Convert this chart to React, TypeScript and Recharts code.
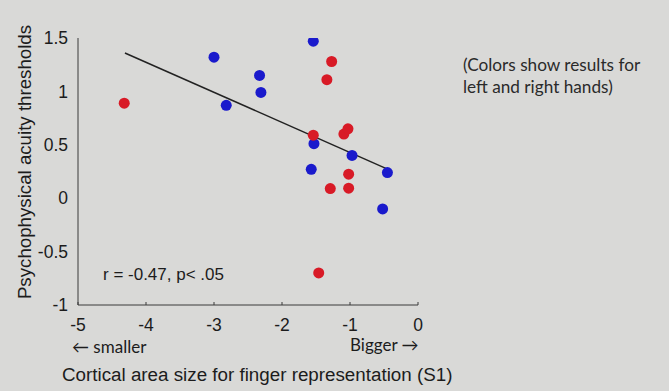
import { ScatterChart, Scatter, XAxis, YAxis } from 'recharts'

const redX = [-4.32, -1.27, -1.34, -1.54, -1.09, -1.03, -1.02, -1.29, -1.02, -1.46]
const redY = [0.89, 1.28, 1.11, 0.59, 0.6, 0.65, 0.225, 0.09, 0.094, -0.7]
const blueX = [-1.54, -3.0, -2.33, -2.31, -2.82, -1.53, -1.57, -0.97, -0.45, -0.52]
const blueY = [1.47, 1.32, 1.15, 0.99, 0.87, 0.51, 0.27, 0.4, 0.24, -0.1]
const fitX = [-4.31, -0.44]
const fitY = [1.36, 0.27]
const xTicks = [-5, -4, -3, -2, -1, 0]
const yTicks = [-1, -0.5, 0, 0.5, 1, 1.5]

const BG = '#d9d9d7'
const RED = '#d81a26'
const BLUE = '#1a1acc'
const AXIS = '#3a3a3a'
const TEXT = '#1c1c1c'
const SANS = '"Liberation Sans", Arial, sans-serif'
const CAL = 'Lato, "Open Sans", sans-serif'

const red = redX.map((x, i) => ({ x, y: redY[i] }))
const blue = blueX.map((x, i) => ({ x, y: blueY[i] }))
const fit = fitX.map((x, i) => ({ x, y: fitY[i] }))

const dot = (color: string) => (props: any) => (
  <circle cx={props.cx} cy={props.cy} r={5.5} fill={color} />
)

function XTick(props: any) {
  const { x, y, payload } = props
  return (
    <g>
      <line x1={x} x2={x} y1={y - 4} y2={y - 7} stroke={AXIS} />
      <text x={x} y={y + 22} textAnchor="middle" fill={TEXT} fontSize={17.5} fontFamily={SANS}>
        {payload.value}
      </text>
    </g>
  )
}

export default function App() {
  return (
    <div
      style={{
        position: 'fixed',
        left: 0,
        top: 0,
        width: 669,
        height: 391,
        background: BG,
        overflow: 'hidden',
      }}
    >
      <ScatterChart width={669} height={391} margin={{ top: 38, right: 251, bottom: 56, left: 0 }}>
        <XAxis
          type="number"
          dataKey="x"
          domain={[-5, 0]}
          ticks={xTicks}
          height={30}
          stroke={AXIS}
          tickLine={false}
          tickSize={0}
          tickMargin={4}
          tick={<XTick />}
          allowDataOverflow
        />
        <YAxis
          type="number"
          dataKey="y"
          domain={[-1, 1.5]}
          ticks={yTicks}
          width={78}
          stroke={AXIS}
          tickLine={false}
          tickSize={0}
          tickMargin={10}
          tick={{ fill: TEXT, fontSize: 17.5, fontFamily: SANS }}
          allowDataOverflow
        />
        <Scatter
          data={fit}
          line={{ stroke: '#222', strokeWidth: 1.5 }}
          shape={() => <g />}
          isAnimationActive={false}
        />
        <Scatter data={blue} shape={dot(BLUE)} isAnimationActive={false} />
        <Scatter data={red} shape={dot(RED)} isAnimationActive={false} />
      </ScatterChart>

      <div
        style={{
          position: 'absolute',
          left: 25 - 150,
          top: 162 - 12,
          width: 300,
          lineHeight: '24px',
          textAlign: 'center',
          transform: 'rotate(-90deg)',
          fontFamily: SANS,
          fontSize: 18.7,
          color: TEXT,
        }}
      >
        Psychophysical acuity thresholds
      </div>

      <div
        style={{
          position: 'absolute',
          left: 103,
          top: 275 - 11,
          lineHeight: '22px',
          fontFamily: SANS,
          fontSize: 17,
          color: TEXT,
          whiteSpace: 'nowrap',
        }}
      >
        r = -0.47, p&lt; .05
      </div>

      <div
        style={{
          position: 'absolute',
          left: 72,
          top: 347 - 11,
          lineHeight: '22px',
          fontFamily: CAL,
          fontSize: 17,
          color: TEXT,
          whiteSpace: 'nowrap',
        }}
      >
        ← smaller
      </div>

      <div
        style={{
          position: 'absolute',
          left: 350,
          top: 345 - 11,
          lineHeight: '22px',
          fontFamily: CAL,
          fontSize: 17,
          color: TEXT,
          whiteSpace: 'nowrap',
        }}
      >
        Bigger →
      </div>

      <div
        style={{
          position: 'absolute',
          left: 62,
          top: 375 - 12,
          lineHeight: '24px',
          fontFamily: SANS,
          fontSize: 18.8,
          color: TEXT,
          whiteSpace: 'nowrap',
        }}
      >
        Cortical area size for finger representation (S1)
      </div>

      <div
        style={{
          position: 'absolute',
          left: 463,
          top: 65 - 11,
          lineHeight: '22px',
          fontFamily: CAL,
          fontSize: 17.2,
          color: '#2a2a2a',
          whiteSpace: 'nowrap',
        }}
      >
        (Colors show results for
        <br />
        left and right hands)
      </div>
    </div>
  )
}
